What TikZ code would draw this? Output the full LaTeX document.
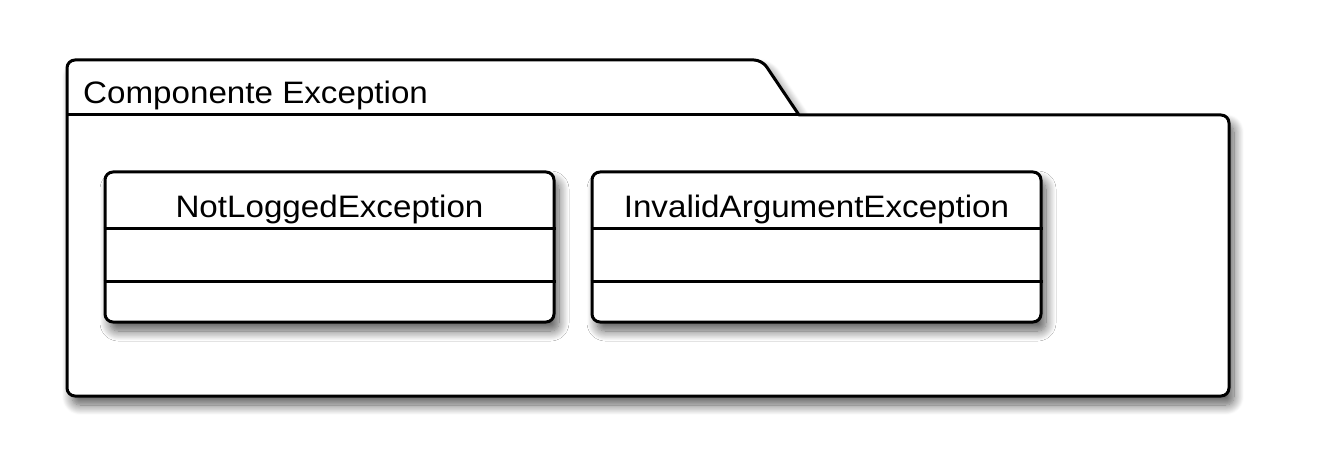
\documentclass[tikz,border=0pt]{standalone}
\usepackage{fontspec}
\setmainfont{Liberation Sans}
\usetikzlibrary{shadows.blur}
\begin{document}
\begin{tikzpicture}[x=1pt,y=-1pt,
  outline/.style={draw=black,line width=3pt,fill=white,line join=round},
  shade/.style={blur shadow={shadow xshift=5pt,shadow yshift=-9pt,shadow blur radius=10pt,shadow opacity=65,shadow blur steps=12}},
  classbox/.style={outline,shade,rectangle,rounded corners=8pt,minimum width=449pt,minimum height=150pt,inner sep=0pt},
  label/.style={font=\fontsize{31}{31}\selectfont,inner sep=0pt}]
\useasboundingbox (0,0) rectangle (1324,473);
% package
\path[outline,shade] (67,115) [rounded corners=8pt] -- (67,60) -- (762,60) [rounded corners=0pt] -- (799,115) [rounded corners=8pt] -- (1229,115) -- (1229,396) -- (67,396) [rounded corners=0pt] -- cycle;
\draw[line width=3pt] (67,115) -- (799,115);
\node[label,anchor=base west] (pkg) at (83,104) {\scalebox{1.07}[1]{Componente Exception}};
% classes
\node[classbox] (c1) at (329.5,247) {};
\node[classbox] (c2) at (816.5,247) {};
\draw[line width=3pt] (c1.west |- 0,228) -- (c1.east |- 0,228);
\draw[line width=3pt] (c1.west |- 0,281) -- (c1.east |- 0,281);
\draw[line width=3pt] (c2.west |- 0,228) -- (c2.east |- 0,228);
\draw[line width=3pt] (c2.west |- 0,281) -- (c2.east |- 0,281);
\node[label,anchor=base] (t1) at (329.5,217) {\scalebox{1.07}[1]{NotLoggedException}};
\node[label,anchor=base] (t2) at (816.5,217) {\scalebox{1.07}[1]{InvalidArgumentException}};
\end{tikzpicture}
\end{document}
